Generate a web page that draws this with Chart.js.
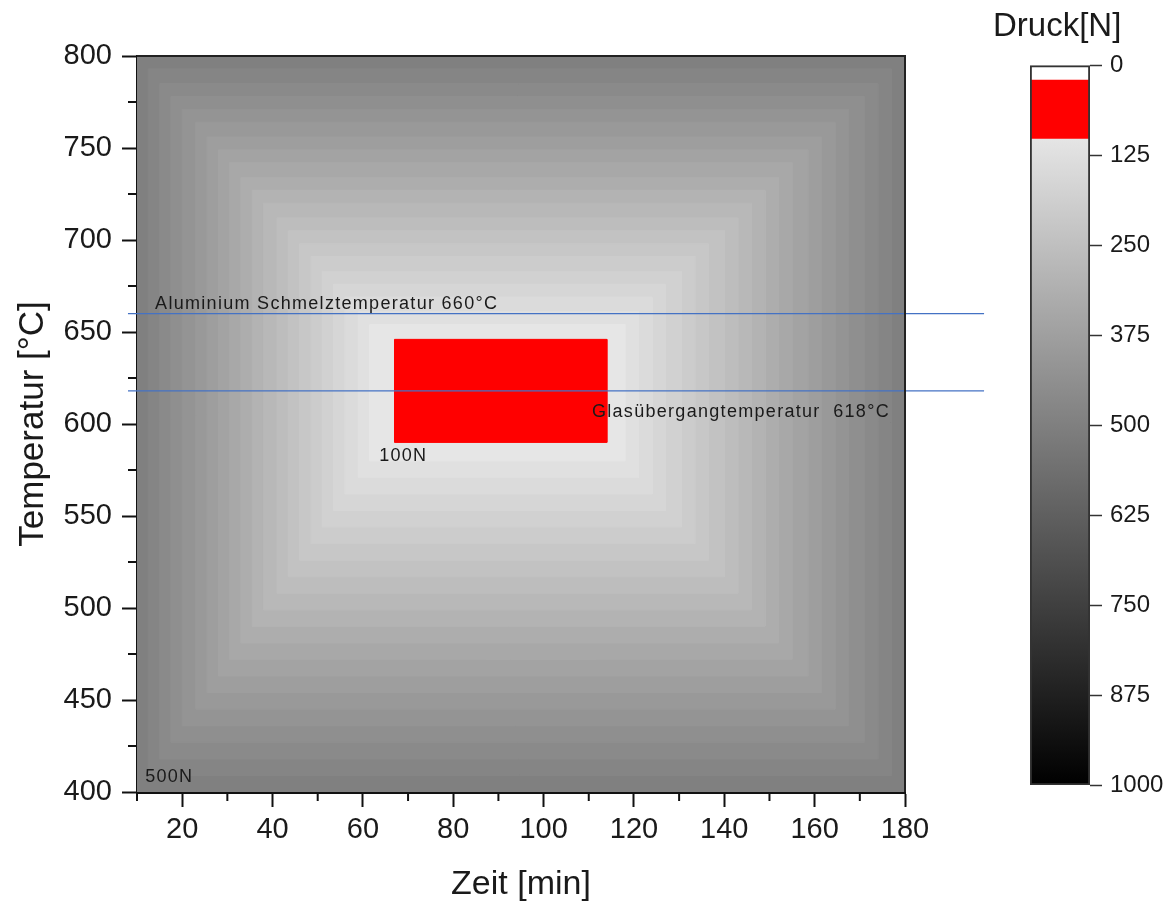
<!DOCTYPE html>
<html>
<head>
<meta charset="utf-8">
<script src="https://cdn.jsdelivr.net/npm/chart.js@4/dist/chart.umd.min.js"></script>
<style>
  body { margin: 0; background: #fff; }
  #wrap { position: relative; width: 1176px; height: 909px; }
  #main { position: absolute; left: 0; top: 0; }
  #bar { position: absolute; left: 990px; top: 0; }
</style>
</head>
<body>
<div id="wrap">
  <canvas id="main" width="1176" height="909"></canvas>
  <canvas id="bar" width="186" height="909"></canvas>
</div>
<script>
// Pressure levels [N] of the nested bands, outermost first
const bandLevels = [500, 480, 460, 440, 420, 400, 380, 360, 340, 320, 300, 280, 260, 240, 220, 200, 180, 160, 140, 120, 100];
// band outlines (time in min, temperature in °C)
const bandLeft   = [10, 12.5, 15, 17.5, 20, 23, 25.5, 28, 30.5, 33, 35.5, 38, 41, 43.5, 46, 48.5, 51, 53.5, 56, 59, 61.5];
const bandRight  = [180, 177, 174, 171, 167.5, 164.5, 161.5, 158.5, 155, 152, 149, 146, 143, 140, 136.5, 133.5, 130.5, 127, 124, 121, 118];
const bandTop    = [800, 793, 785, 778, 771, 764, 756, 749, 742, 734, 727, 720, 712, 705, 698, 691, 683, 676, 669, 661, 654];
const bandBottom = [400, 409, 418, 427, 436, 445, 454, 463, 472, 481, 490, 499, 508, 517, 526, 535, 544, 553, 562, 571, 580];

// red target window
const redTime = [67, 114];
const redTemp = [590, 646];

// reference temperatures
const refTemps = [660, 618];
const refSpan = [8, 197.5];

// text notes in the plot
const noteTexts = ['Aluminium Schmelztemperatur 660°C', 'Glasübergangtemperatur  618°C', '100N', '500N'];
const noteTime  = [14, 110.7, 63.6, 11.8];
const noteTemp  = [662.5, 603.8, 579.9, 405.4];

// axis ticks
const xTicks = [20, 40, 60, 80, 100, 120, 140, 160, 180];
const yTicks = [400, 450, 500, 550, 600, 650, 700, 750, 800];

// colour bar
const barTicks = [0, 125, 250, 375, 500, 625, 750, 875, 1000];
const barWhite = [0, 20];
const barRed = [20, 102];
const barGray = [102, 1000];

const FONT = "'Liberation Sans', Arial, sans-serif";
const INK = '#1a1a1a';

function grayFor(v) {
    const g = Math.round(255 * (1 - v / 1000));
    return `rgb(${g},${g},${g})`;
}

function rectPoints(l, r, b, t) {
    return [{x: l, y: b}, {x: l, y: t}, {x: r, y: t}, {x: r, y: b}, {x: l, y: b}];
}

// datasets: index 0 is drawn on top, so lines first, bands last (innermost before outer)
const datasets = [];
refTemps.forEach(T => {
    datasets.push({
        data: [{x: refSpan[0], y: T}, {x: refSpan[1], y: T}],
        showLine: true, borderColor: '#4472c4', borderWidth: 1.2,
        pointRadius: 0, fill: false, clip: false
    });
});
datasets.push({
    data: rectPoints(redTime[0], redTime[1], redTemp[0], redTemp[1]),
    showLine: true, borderColor: '#ff0000', backgroundColor: '#ff0000',
    borderWidth: 1, pointRadius: 0, fill: 'shape'
});
for (let i = bandLevels.length - 1; i >= 0; i--) {
    const c = grayFor(bandLevels[i]);
    datasets.push({
        data: rectPoints(bandLeft[i], bandRight[i], bandBottom[i], bandTop[i]),
        showLine: true, borderColor: c, backgroundColor: c,
        borderWidth: 1, pointRadius: 0, fill: 'shape'
    });
}

// minor ticks, frame and notes
const extras = {
    id: 'extras',
    afterDraw(chart) {
        const {ctx, chartArea: a, scales: {x, y}} = chart;
        ctx.save();
        ctx.strokeStyle = '#111';
        ctx.lineWidth = 2;
        ctx.beginPath();
        for (let t = 10; t < 180; t += 20) {
            const px = x.getPixelForValue(t);
            ctx.moveTo(px, a.bottom); ctx.lineTo(px, a.bottom + 9);
        }
        for (let T = 425; T < 800; T += 50) {
            const py = y.getPixelForValue(T);
            ctx.moveTo(a.left, py); ctx.lineTo(a.left - 9, py);
        }
        ctx.stroke();

        // thin frame on top and right
        ctx.strokeStyle = '#222';
        ctx.beginPath();
        ctx.moveTo(a.left, a.top); ctx.lineTo(a.right, a.top); ctx.lineTo(a.right, a.bottom);
        ctx.stroke();

        ctx.fillStyle = INK;
        ctx.font = '18px ' + FONT;
        ctx.letterSpacing = '1.3px';
        ctx.textBaseline = 'alphabetic';
        ctx.textAlign = 'left';
        noteTexts.forEach((s, i) => {
            ctx.fillText(s, x.getPixelForValue(noteTime[i]), y.getPixelForValue(noteTemp[i]));
        });
        ctx.restore();
    }
};

new Chart(document.getElementById('main'), {
    type: 'scatter',
    data: { datasets },
    options: {
        responsive: false,
        animation: false,
        layout: { padding: { left: 0, top: 56, right: 271, bottom: 0 } },
        plugins: { legend: { display: false }, tooltip: { enabled: false } },
        scales: {
            x: {
                type: 'linear', min: 10, max: 180, z: 1,
                afterBuildTicks: s => { s.ticks = xTicks.map(v => ({ value: v })); },
                afterFit: s => { s.height = 909 - 792; },
                ticks: { font: { size: 29, family: FONT }, color: INK, padding: 6, maxRotation: 0 },
                grid: { drawOnChartArea: false, tickLength: 15, tickWidth: 2, tickColor: '#111' },
                border: { display: true, width: 3, color: '#111' },
                title: { display: true, text: 'Zeit [min]', font: { size: 34, family: FONT }, color: INK, padding: { top: 0, bottom: 4 } }
            },
            y: {
                type: 'linear', min: 400, max: 800, z: 1,
                afterBuildTicks: s => { s.ticks = yTicks.map(v => ({ value: v })); },
                afterFit: s => { s.width = 137; },
                ticks: { font: { size: 29, family: FONT }, color: INK, padding: 10 },
                grid: { drawOnChartArea: false, tickLength: 15, tickWidth: 2, tickColor: '#111' },
                border: { display: true, width: 3, color: '#111' },
                title: { display: true, text: 'Temperatur [°C]', font: { size: 35, family: FONT }, color: INK, padding: { top: 12, bottom: 0 } }
            }
        }
    },
    plugins: [extras]
});

// colour bar
function barGradient(context) {
    const chart = context.chart;
    if (!chart.chartArea) return '#888';
    const y = chart.scales.y;
    const g = chart.ctx.createLinearGradient(0, y.getPixelForValue(0), 0, y.getPixelForValue(1000));
    g.addColorStop(0, '#ffffff');
    g.addColorStop(1, '#000000');
    return g;
}

const barCommon = { grouped: false, barPercentage: 1, categoryPercentage: 1, xAxisID: 'x', yAxisID: 'y' };

new Chart(document.getElementById('bar'), {
    type: 'bar',
    data: {
        labels: [''],
        datasets: [
            { ...barCommon, data: [[0, 1000]], backgroundColor: 'rgba(0,0,0,0)', borderColor: '#333', borderWidth: 1.5, borderSkipped: false },
            { ...barCommon, data: [barWhite], backgroundColor: '#ffffff' },
            { ...barCommon, data: [barRed], backgroundColor: '#ff0000' },
            { ...barCommon, data: [barGray], backgroundColor: barGradient }
        ]
    },
    options: {
        responsive: false,
        animation: false,
        layout: { padding: { left: 3, top: 0, right: 0, bottom: 124 } },
        plugins: {
            legend: { display: false },
            tooltip: { enabled: false },
            title: {
                display: true, text: 'Druck[N]', align: 'start', color: INK,
                font: { size: 33, family: FONT, weight: 'normal' },
                padding: { top: 7, bottom: 18.4 }
            }
        },
        scales: {
            x: { display: false },
            yl: {
                position: 'left', min: 0, max: 1000,
                afterFit: s => { s.width = 37; },
                ticks: { display: false },
                grid: { display: false },
                border: { display: false }
            },
            y: {
                position: 'right', reverse: true, min: 0, max: 1000,
                afterFit: s => { s.width = 86; },
                afterBuildTicks: s => { s.ticks = barTicks.map(v => ({ value: v })); },
                ticks: { font: { size: 24, family: FONT }, color: INK, padding: 8, callback: v => String(v) },
                grid: { drawOnChartArea: false, tickLength: 12, tickWidth: 1.5, tickColor: '#333' },
                border: { display: false }
            }
        }
    }
});
</script>
</body>
</html>
